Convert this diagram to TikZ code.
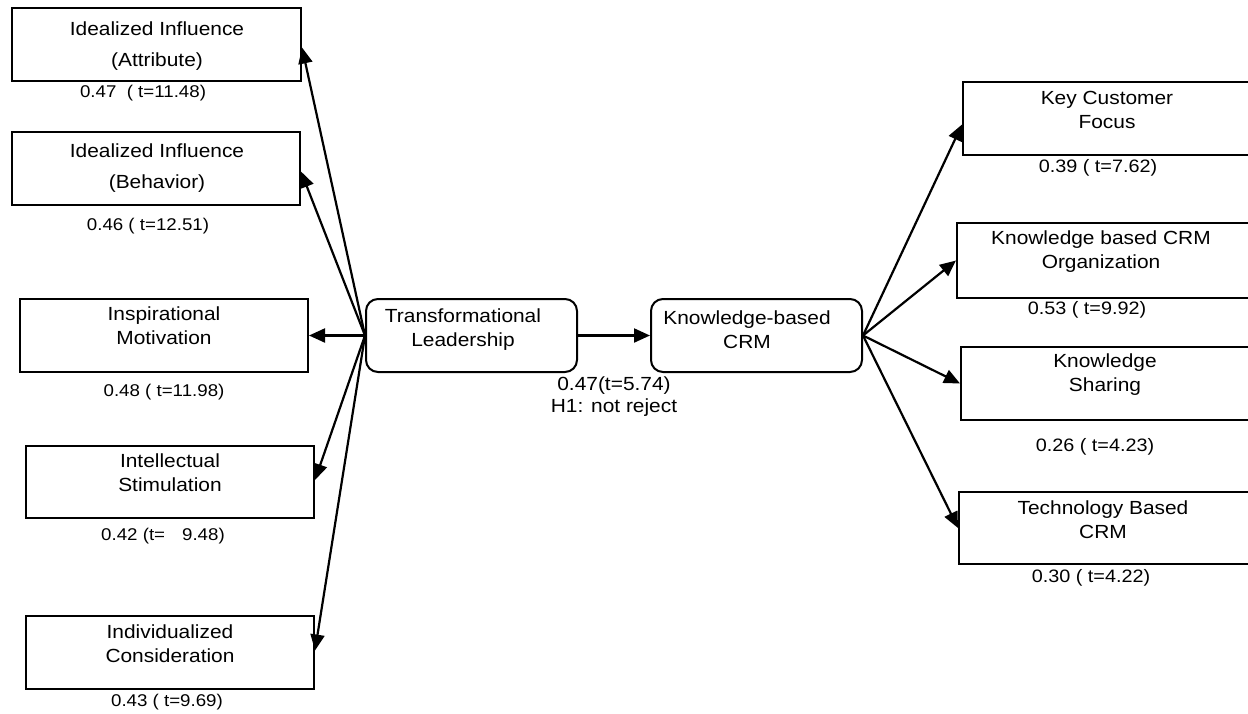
\documentclass[tikz,border=0pt]{standalone}
\usepackage{fontspec}
\setmainfont{Liberation Sans}[FakeStretch=1.1]
\usetikzlibrary{arrows.meta}
\begin{document}
\begin{tikzpicture}[x=1pt,y=-1pt,
  box/.style={draw, line width=2pt, inner sep=0pt},
  rbox/.style={box, rounded corners=12pt},
  txt/.style={align=center, inner sep=0pt, font=\fontsize{19}{24}\selectfont},
  wtxt/.style={align=center, inner sep=0pt, font=\fontsize{19}{31}\selectfont},
  lab/.style={inner sep=0pt, font=\fontsize{17}{20}\selectfont},
  rlab/.style={inner sep=0pt, font=\fontsize{18}{21}\selectfont},
  mlab/.style={align=center, inner sep=0pt, font=\fontsize{19}{22}\selectfont},
  arr/.style={line width=2.2pt, -{Triangle[length=16pt,width=14pt]}}]
\useasboundingbox (0,0) rectangle (1248,713);
\clip (0,0) rectangle (1248,713);
\fill[white] (0,0) rectangle (1248,713);

% left boxes
\node[box, minimum width=289pt, minimum height=73pt] (ia) at (156.5,44.5) {};
\node[box, minimum width=288pt, minimum height=73pt] (ib) at (156,168.5) {};
\node[box, minimum width=288pt, minimum height=73pt] (im) at (164,335.5) {};
\node[box, minimum width=288pt, minimum height=72pt] (is) at (170,482) {};
\node[box, minimum width=288pt, minimum height=73pt] (ic) at (170,652.5) {};
% centre boxes
\node[rbox, minimum width=211pt, minimum height=73pt] (tl) at (471.5,335.5) {};
\node[rbox, minimum width=211pt, minimum height=73pt] (kc) at (756.5,335.5) {};
% right boxes
\node[box, minimum width=297pt, minimum height=73pt] (kf) at (1111.5,118.5) {};
\node[box, minimum width=303pt, minimum height=75pt] (ko) at (1108.5,260.5) {};
\node[box, minimum width=299pt, minimum height=73pt] (ks) at (1110.5,383.5) {};
\node[box, minimum width=301pt, minimum height=72pt] (tb) at (1109.5,528) {};

% box texts
\node[wtxt] (iat) at (157,46) {Idealized Influence\\(Attribute)};
\node[wtxt] (ibt) at (157,168) {Idealized Influence\\(Behavior)};
\node[txt] (imt) at (164,325.5) {Inspirational\\Motivation};
\node[txt] (ist) at (170,472.5) {Intellectual\\Stimulation};
\node[txt] (ict) at (170,643.5) {Individualized\\Consideration};
\node[txt] (tlt) at (463,329.5) {Transformational\\Leadership};
\node[txt] (kct) at (747,329.5) {Knowledge-based\\CRM};
\node[txt] (kft) at (1107,109.5) {Key Customer\\Focus};
\node[txt] (kot) at (1101,251.5) {Knowledge based CRM\\Organization};
\node[txt] (kst) at (1105,375) {Knowledge\\Sharing};
\node[txt] (tbt) at (1103,519.5) {Technology Based\\CRM};

% loadings
\node[lab] (ial) at (143,93) {0.47~~( t=11.48)};
\node[lab] (ibl) at (148,226) {0.46 ( t=12.51)};
\node[lab] (iml) at (164,392) {0.48 ( t=11.98)};
\node[lab] (isl) at (163,536) {0.42 (t=\hspace{17pt}9.48)};
\node[lab] (icl) at (167,702) {0.43 ( t=9.69)};
\node[rlab] (kfl) at (1098,168) {0.39 ( t=7.62)};
\node[rlab] (kol) at (1087,310) {0.53 ( t=9.92)};
\node[rlab] (ksl) at (1095,447) {0.26 ( t=4.23)};
\node[rlab] (tbl) at (1091,578) {0.30 ( t=4.22)};
\node[mlab] (h1) at (614,397) {0.47(t=5.74)\\H1: not reject};

% connectors
\draw[arr] (tl.west) -- ([yshift=-3pt]ia.east);
\draw[arr] (tl.west) -- ([yshift=-3pt]ib.east);
\draw[arr] (tl.west) -- (im.east);
\draw[arr] (tl.west) -- ([yshift=2pt]is.east);
\draw[arr] (tl.west) -- ([yshift=2pt]ic.east);
\draw[arr] (tl.east) -- (kc.west);
\draw[arr] (kc.east) -- ([yshift=-6pt]kf.west);
\draw[arr] (kc.east) -- (ko.west);
\draw[arr] (kc.east) -- (ks.west);
\draw[arr] (kc.east) -- (tb.west);
\end{tikzpicture}
\end{document}
